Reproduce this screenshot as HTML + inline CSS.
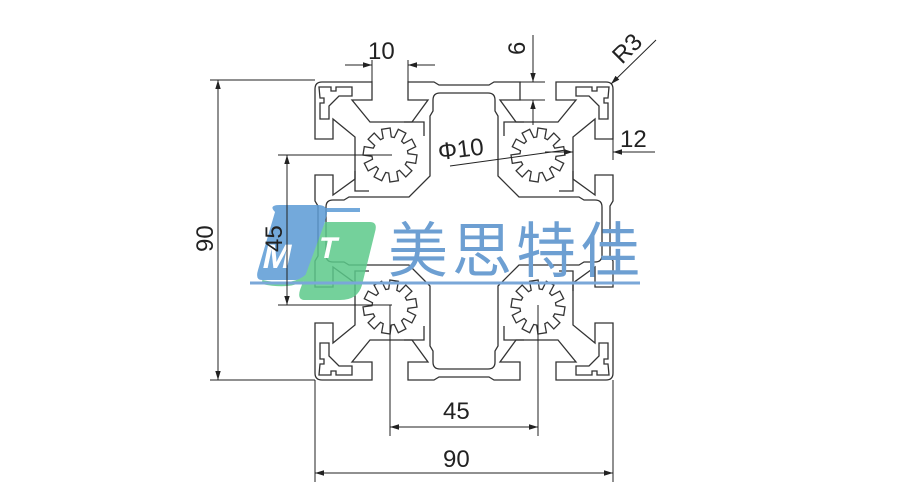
<!DOCTYPE html>
<html><head><meta charset="utf-8"><style>
html,body{margin:0;padding:0;background:#fff;width:900px;height:500px;overflow:hidden}
svg{display:block}
text{font-family:"Liberation Sans",sans-serif;fill:#222}
</style></head><body>
<svg id="s" width="900" height="500" viewBox="0 0 900 500" xmlns="http://www.w3.org/2000/svg">
<defs>
<marker id="ar" viewBox="0 0 10 10" refX="10" refY="5" markerWidth="9" markerHeight="9" orient="auto-start-reverse" markerUnits="userSpaceOnUse"><path d="M0,2 L10,5 L0,8 z" fill="#222"/></marker>
<g id="q" fill="none" stroke="#333" stroke-width="1.3">
 <path d="M0,-146 L-25,-146 L-30,-149 L-56,-149 L-56,-131 L-36,-131 L-52,-109 L-94,-109 L-112,-131 L-92,-131 L-92,-149 L-142,-149 Q-149,-149 -149,-142 L-149,-92 L-131,-92 L-131,-112 L-109,-94 L-109,-52 L-131,-36 L-131,-56 L-149,-56 L-149,-30 L-146,-25 L-146,0"/>
 <path d="M0,-138 L-24,-138 Q-31,-138 -31,-131 L-31,-120 L-34,-115 L-34,-55 L-55,-34 L-115,-34 L-120,-31 L-131,-31 Q-138,-31 -138,-24 L-138,0"/>
 <path d="M-145,-144 L-133,-144 L-133,-140 L-128,-140 L-128,-144 L-112,-144 L-112,-135 L-125,-135 L-135,-125 L-135,-112 L-144,-112 L-144,-128 L-140,-128 L-140,-133 L-144,-133 Z"/>
 <path d="M-60,-109 L-40,-109 L-40,-95 M-109,-60 L-109,-40 L-95,-40"/>
 <g id="gear" transform="translate(-74,-76)"></g>
</g>
</defs>
<g transform="translate(464,231)">
 <use href="#q"/>
 <use href="#q" transform="scale(-1,1)"/>
 <use href="#q" transform="scale(1,-1)"/>
 <use href="#q" transform="scale(-1,-1)"/>
</g>

<g opacity="0.85">
 <path d="M275,212 Q268,205 280,205 L318,205 Q330,205 326,218 L312,268 Q308,280 295,280 L262,280 Q255,280 258,270 Z" fill="#5b9bd5"/>
 <path d="M325,222 L370,222 Q378,222 375,232 L362,285 Q358,300 340,300 L305,300 Q297,300 300,290 Z" fill="#5cc98a"/>
 <path d="M262,282 Q300,290 312,270" stroke="#5cc98a" stroke-width="4" fill="none"/>
 <path d="M276,210 L360,210" stroke="#5b9bd5" stroke-width="4"/>
</g>
<text x="266" y="268" font-size="34" font-weight="bold" style="fill:#fff" transform="skewX(-12) translate(52,0)">M</text>
<text x="320" y="258" font-size="30" font-weight="bold" style="fill:#fff" transform="skewX(-12) translate(52,0)">T</text>
<text x="388" y="272" font-size="60" style="fill:#6d9fd2;font-family:'Liberation Sans','Noto Sans CJK SC',sans-serif" letter-spacing="4">美思特佳</text>
<line x1="250" y1="283" x2="640" y2="283" stroke="#7aa7d8" stroke-width="3"/>

<g stroke="#222" stroke-width="1" fill="none">
 <line x1="372" y1="60" x2="372" y2="82"/><line x1="408" y1="60" x2="408" y2="82"/>
 <line x1="345" y1="65" x2="372" y2="65" marker-end="url(#ar)"/>
 <line x1="435" y1="65" x2="408" y2="65" marker-end="url(#ar)"/>
 <line x1="533" y1="35" x2="533" y2="82" marker-end="url(#ar)"/>
 <line x1="533" y1="125" x2="533" y2="100" marker-end="url(#ar)"/>
 <line x1="520" y1="82" x2="545" y2="82"/><line x1="520" y1="100" x2="545" y2="100"/>
 <line x1="656" y1="40" x2="611" y2="84" marker-end="url(#ar)"/>
 <line x1="613" y1="130" x2="613" y2="160"/>
 <line x1="545" y1="152" x2="573" y2="152" marker-end="url(#ar)"/>
 <line x1="655" y1="152" x2="613" y2="152" marker-end="url(#ar)"/>
 <line x1="450" y1="166" x2="566" y2="150"/>
 <line x1="210" y1="80" x2="315" y2="80"/><line x1="210" y1="380" x2="315" y2="380"/>
 <line x1="218" y1="230" x2="218" y2="80" marker-end="url(#ar)"/>
 <line x1="218" y1="230" x2="218" y2="380" marker-end="url(#ar)"/>
 <line x1="278" y1="155" x2="392" y2="155"/><line x1="278" y1="305" x2="392" y2="305"/>
 <line x1="287" y1="230" x2="287" y2="155" marker-end="url(#ar)"/>
 <line x1="287" y1="230" x2="287" y2="305" marker-end="url(#ar)"/>
 <line x1="390" y1="305" x2="390" y2="436"/><line x1="538" y1="305" x2="538" y2="436"/>
 <line x1="464" y1="427" x2="390" y2="427" marker-end="url(#ar)"/>
 <line x1="464" y1="427" x2="538" y2="427" marker-end="url(#ar)"/>
 <line x1="315" y1="380" x2="315" y2="482"/><line x1="613" y1="380" x2="613" y2="482"/>
 <line x1="464" y1="473" x2="315" y2="473" marker-end="url(#ar)"/>
 <line x1="464" y1="473" x2="613" y2="473" marker-end="url(#ar)"/>
</g>
<g font-size="24">
 <text x="368" y="59">10</text>
 <text x="0" y="0" transform="translate(525,55) rotate(-90)">6</text>
 <text x="0" y="0" transform="translate(622,65) rotate(-45)">R3</text>
 <text x="620" y="147">12</text>
 <text x="439" y="160" transform="rotate(-7 439 160)">Φ10</text>
 <text x="0" y="0" transform="translate(213,252) rotate(-90)">90</text>
 <text x="0" y="0" transform="translate(282,252) rotate(-90)">45</text>
 <text x="443" y="419">45</text>
 <text x="443" y="467">90</text>
</g>
</svg>
<script>
(function(){
 var n=10,ro=27,ri=18,pts=[];
 for(var i=0;i<n;i++){
  var c=i*2*Math.PI/n+Math.PI/n/2, h=0.16, hi=0.23;
  var a=[[ri,c-hi],[ro,c-h],[ro,c+h],[ri,c+hi]];
  a.forEach(function(p){pts.push((p[0]*Math.cos(p[1])).toFixed(1)+","+(p[0]*Math.sin(p[1])).toFixed(1));});
 }
 var g=document.getElementById("gear");
 var p=document.createElementNS("http://www.w3.org/2000/svg","polygon");
 p.setAttribute("points",pts.join(" "));
 g.appendChild(p);
})();
</script>
</body></html>
